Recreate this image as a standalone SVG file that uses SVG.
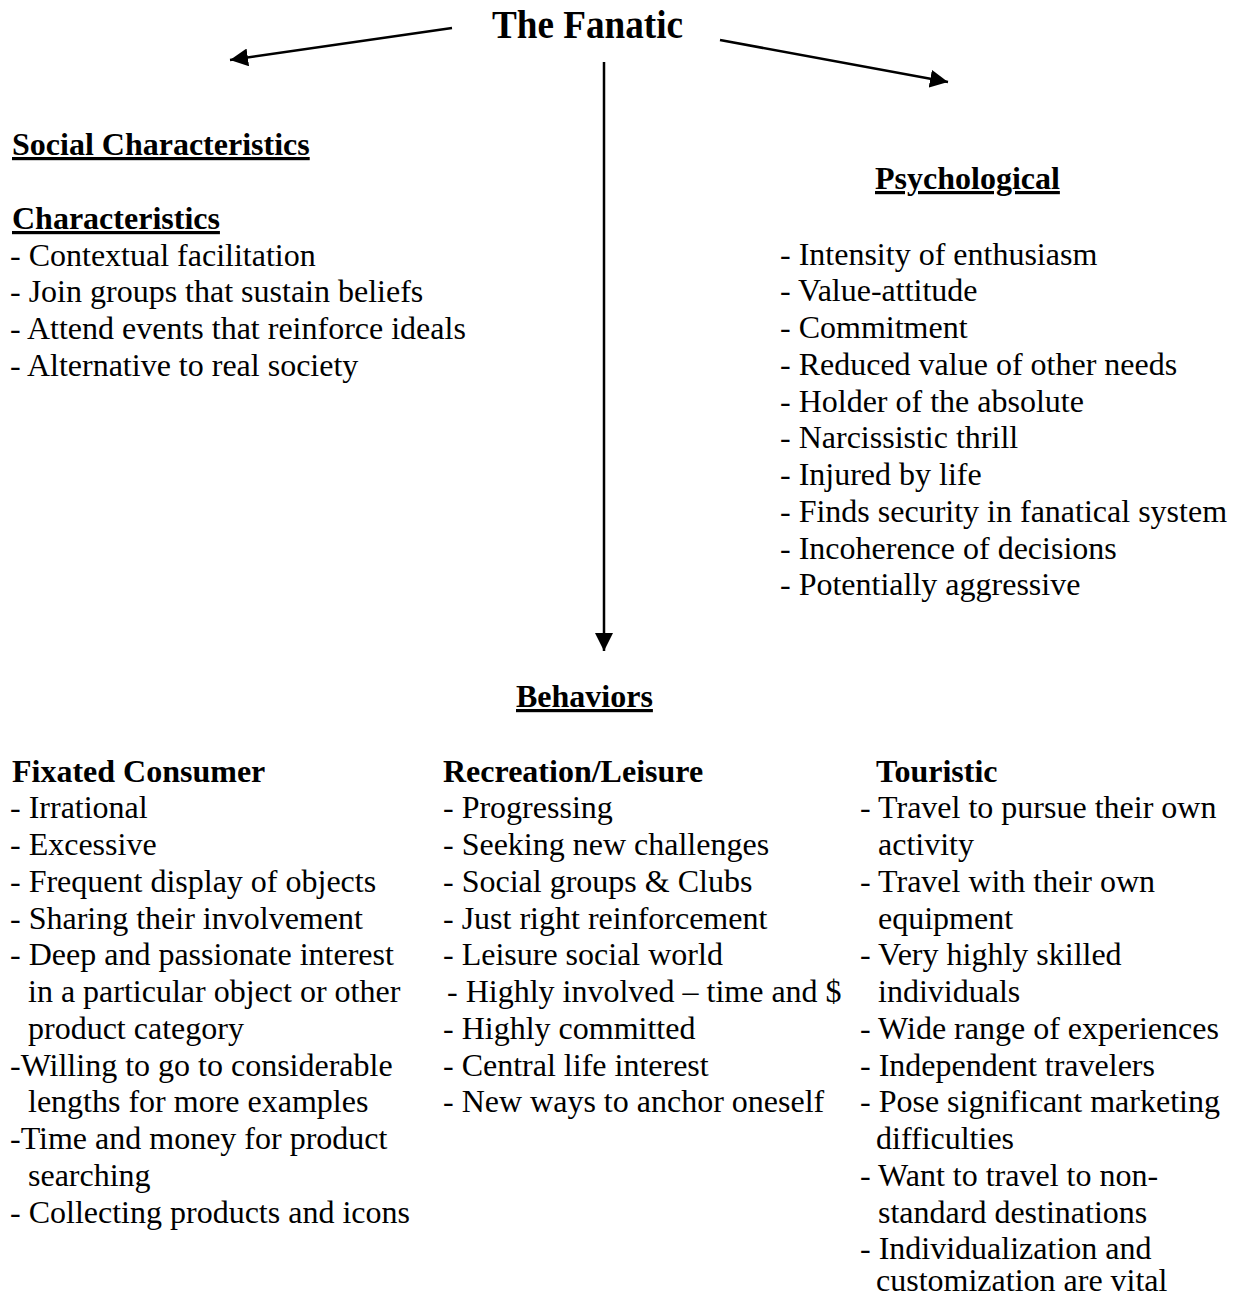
<svg xmlns="http://www.w3.org/2000/svg" width="1243" height="1297" viewBox="0 0 1243 1297">
<defs>
<style>
text{font-family:"Liberation Serif","Times New Roman",serif;font-size:32px;fill:#000}
.b{font-weight:bold}
.u{font-weight:bold;text-decoration:underline}
.c line{stroke:#000;stroke-width:2.5}
</style>
<marker id="ah" markerUnits="userSpaceOnUse" markerWidth="20" markerHeight="18" refX="18" refY="9" orient="auto">
<path d="M0,0 L18,9 L0,18 Z" fill="#000"/>
</marker>
</defs>
<rect width="1243" height="1297" fill="#fff"/>
<g id="connectors" class="c">
<line x1="452" y1="28" x2="230" y2="60" marker-end="url(#ah)"/>
<line x1="720" y1="40" x2="948" y2="82" marker-end="url(#ah)"/>
<line x1="604" y1="62" x2="604" y2="651" marker-end="url(#ah)"/>
</g>
<g id="title">
<text x="492" y="38" class="b" style="font-size:40px" textLength="191" lengthAdjust="spacingAndGlyphs">The Fanatic</text>
</g>
<g id="social">
<text x="12" y="155" class="u">Social Characteristics</text>
<text x="12" y="229" class="u">Characteristics</text>
<text x="10" y="265.5">- Contextual facilitation</text>
<text x="10" y="302.3">- Join groups that sustain beliefs</text>
<text x="10" y="339">- Attend events that reinforce ideals</text>
<text x="10" y="375.8">- Alternative to real society</text>
</g>
<g id="psychological">
<text x="875" y="189" class="u">Psychological</text>
<text x="780" y="264.5">- Intensity of enthusiasm</text>
<text x="780" y="301.2">- Value-attitude</text>
<text x="780" y="338">- Commitment</text>
<text x="780" y="374.7">- Reduced value of other needs</text>
<text x="780" y="411.5">- Holder of the absolute</text>
<text x="780" y="448.2">- Narcissistic thrill</text>
<text x="780" y="485">- Injured by life</text>
<text x="780" y="521.7">- Finds security in fanatical system</text>
<text x="780" y="558.5">- Incoherence of decisions</text>
<text x="780" y="595.2">- Potentially aggressive</text>
</g>
<g id="behaviors">
<text x="516" y="707" class="u">Behaviors</text>
</g>
<g id="fixated-consumer">
<text x="12" y="781.5" class="b">Fixated Consumer</text>
<text x="10" y="818.2">- Irrational</text>
<text x="10" y="855">- Excessive</text>
<text x="10" y="891.7">- Frequent display of objects</text>
<text x="10" y="928.5">- Sharing their involvement</text>
<text x="10" y="965.2">- Deep and passionate interest</text>
<text x="28" y="1002">in a particular object or other</text>
<text x="28" y="1038.7">product category</text>
<text x="10" y="1075.5">-Willing to go to considerable</text>
<text x="28" y="1112.2">lengths for more examples</text>
<text x="10" y="1149">-Time and money for product</text>
<text x="28" y="1185.7">searching</text>
<text x="10" y="1222.5">- Collecting products and icons</text>
</g>
<g id="recreation-leisure">
<text x="443" y="781.5" class="b">Recreation/Leisure</text>
<text x="443" y="818.2">- Progressing</text>
<text x="443" y="855">- Seeking new challenges</text>
<text x="443" y="891.7">- Social groups &amp; Clubs</text>
<text x="443" y="928.5">- Just right reinforcement</text>
<text x="443" y="965.2">- Leisure social world</text>
<text x="447" y="1002">- Highly involved – time and $</text>
<text x="443" y="1038.7">- Highly committed</text>
<text x="443" y="1075.5">- Central life interest</text>
<text x="443" y="1112.2">- New ways to anchor oneself</text>
</g>
<g id="touristic">
<text x="876" y="781.5" class="b">Touristic</text>
<text x="860" y="818.2">- Travel to pursue their own</text>
<text x="878" y="855">activity</text>
<text x="860" y="891.7">- Travel with their own</text>
<text x="878" y="928.5">equipment</text>
<text x="860" y="965.2">- Very highly skilled</text>
<text x="878" y="1002">individuals</text>
<text x="860" y="1038.7">- Wide range of experiences</text>
<text x="860" y="1075.5">- Independent travelers</text>
<text x="860" y="1112.2">- Pose significant marketing</text>
<text x="876" y="1149">difficulties</text>
<text x="860" y="1185.7">- Want to travel to non-</text>
<text x="878" y="1222.5">standard destinations</text>
<text x="860" y="1258.5">- Individualization and</text>
<text x="876" y="1291">customization are vital</text>
</g>
</svg>
